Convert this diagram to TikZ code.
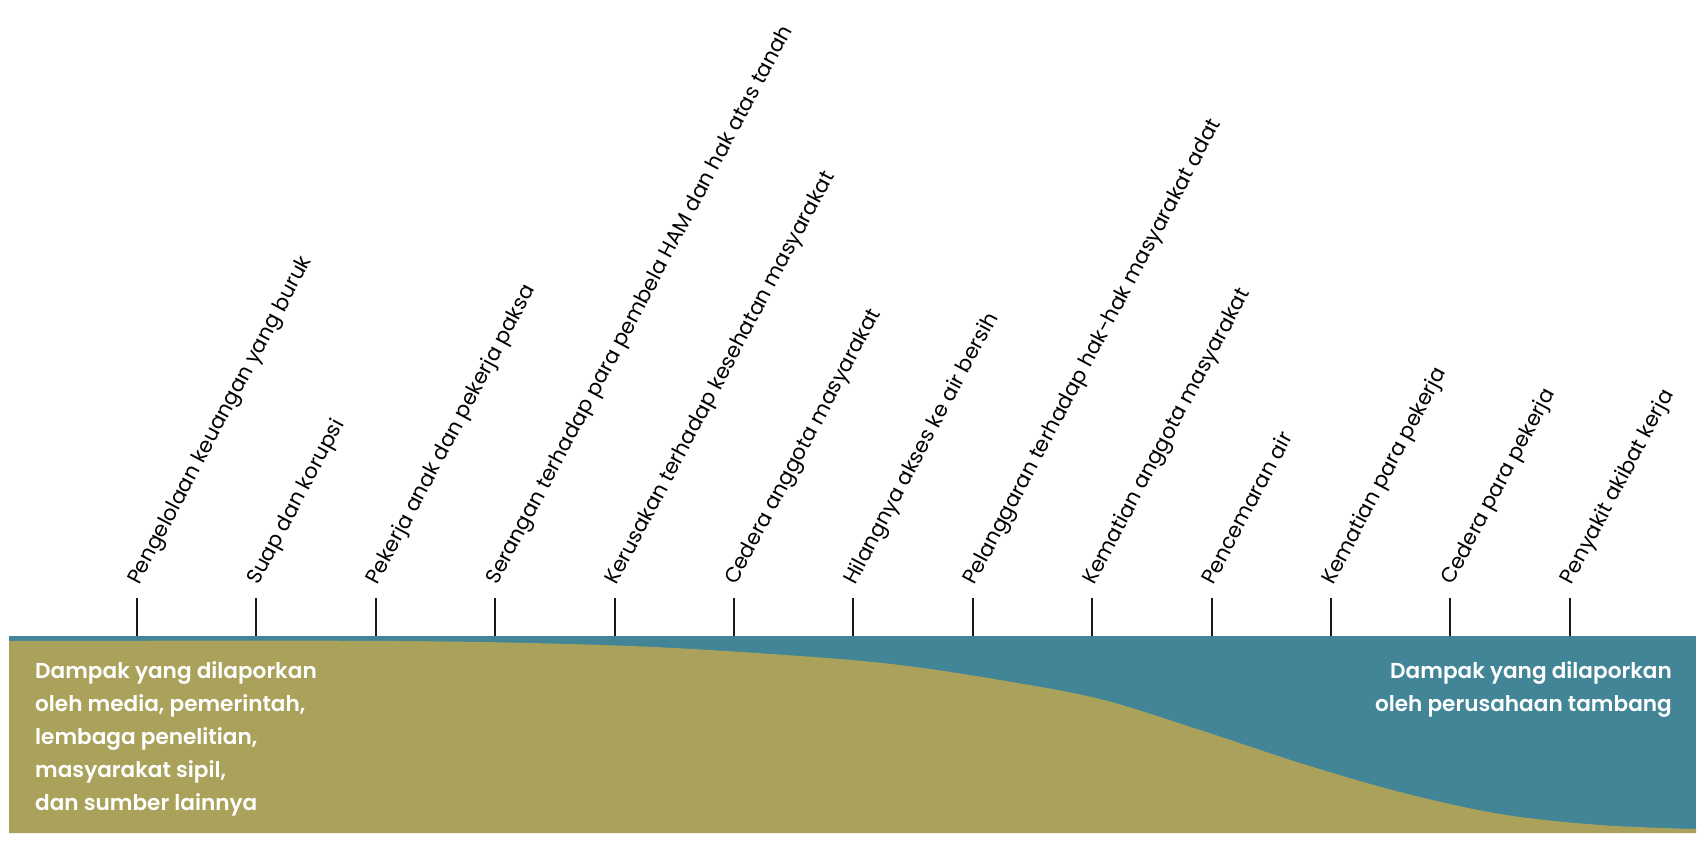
\documentclass[tikz,border=0pt]{standalone}
\usepackage{fontspec}
\setmainfont{Poppins}
\newfontfamily\semib{Poppins}[UprightFont=* SemiBold]
\definecolor{oliveA}{HTML}{AAA25A}
\definecolor{tealA}{HTML}{418597}
\begin{document}
\begin{tikzpicture}[x=1pt,y=-1pt,
  tickline/.style={line width=2pt, black!90},
  lab/.style={rotate=62, anchor=base west, inner sep=0pt, text=black,
    font=\fontsize{21}{26}\selectfont},
  wtext/.style={inner sep=0pt, text=white, font=\semib\fontsize{21.6}{33}\selectfont}]
\useasboundingbox (0,0) rectangle (1704,844);
\fill[white] (0,0) rectangle (1704,844);
\fill[tealA] (9,636) rectangle (1696,833);
\fill[oliveA] (9,833) -- plot[smooth, tension=0.55] coordinates {(9,641) (400,641) (630,646) (800,656) (900,665) (1000,680) (1100,699) (1200,730) (1300,763) (1400,792) (1500,814) (1600,825) (1696,829)} -- (1696,833) -- cycle;
\foreach \i/\t in {0/{Pengelolaan keuangan yang buruk},
  1/{Suap dan korupsi},
  2/{Pekerja anak dan pekerja paksa},
  3/{Serangan terhadap para pembela HAM dan hak atas tanah},
  4/{Kerusakan terhadap kesehatan masyarakat},
  5/{Cedera anggota masyarakat},
  6/{Hilangnya akses ke air bersih},
  7/{Pelanggaran terhadap hak-hak masyarakat adat},
  8/{Kematian anggota masyarakat},
  9/{Pencemaran air},
  10/{Kematian para pekerja},
  11/{Cedera para pekerja},
  12/{Penyakit akibat kerja}}{
  \coordinate (top\i) at ({137+119.4*\i},598);
  \coordinate (bot\i) at ({137+119.4*\i},636);
  \draw[tickline] (top\i) -- (bot\i);
  \node[lab] (lab\i) at ({139+119.4*\i},586) {\t};
}
\node[wtext, anchor=north west, align=left] (left) at (35,661)
  {Dampak yang dilaporkan\\oleh media, pemerintah,\\lembaga penelitian,\\masyarakat sipil,\\dan sumber lainnya};
\node[wtext, anchor=north east, align=right] (right) at (1672,661)
  {Dampak yang dilaporkan\\oleh perusahaan tambang};
\end{tikzpicture}
\end{document}
